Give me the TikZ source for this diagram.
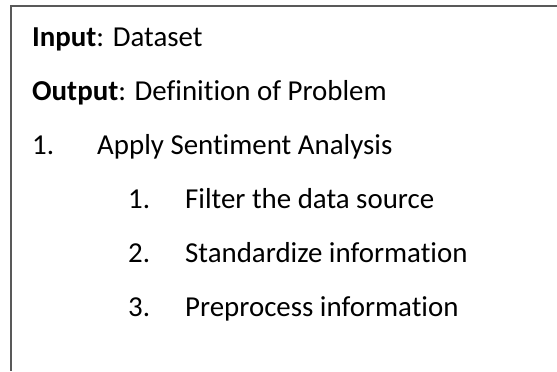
\documentclass[tikz,border=0pt]{standalone}
\usepackage{fontspec}
\setmainfont{Carlito}[Ligatures=NoCommon]
\tikzset{
  frameline/.style={draw=black!65, line width=1.6bp},
  item/.style={anchor=base west, inner sep=0pt, font=\fontsize{29}{34}\selectfont}
}
\begin{document}
\begin{tikzpicture}[x=1bp, y=-1bp]
\useasboundingbox (0,0) rectangle (557,371);
% open frame: top and left edges only
\coordinate (tl) at (11,6);
\coordinate (tr) at (557,6);
\coordinate (bl) at (11,371);
\draw[frameline] (tr) -- (tl) -- (bl);
% header lines
\node[item] (in)  at (32,46)  {\textbf{Input}: Dataset};
\node[item] (out) at (32,100) {\textbf{Output}: Definition of Problem};
% numbered steps
\node[item] (n1)  at (32,154) {1.};
\node[item] (s1)  at (97,154) {Apply Sentiment Analysis};
\node[item] (m1)  at (128,208) {1.};
\node[item] (t1)  at (185,208) {Filter the data source};
\node[item] (m2)  at (128,262) {2.};
\node[item] (t2)  at (185,262) {Standardize information};
\node[item] (m3)  at (128,316) {3.};
\node[item] (t3)  at (185,316) {Preprocess information};
\end{tikzpicture}
\end{document}
